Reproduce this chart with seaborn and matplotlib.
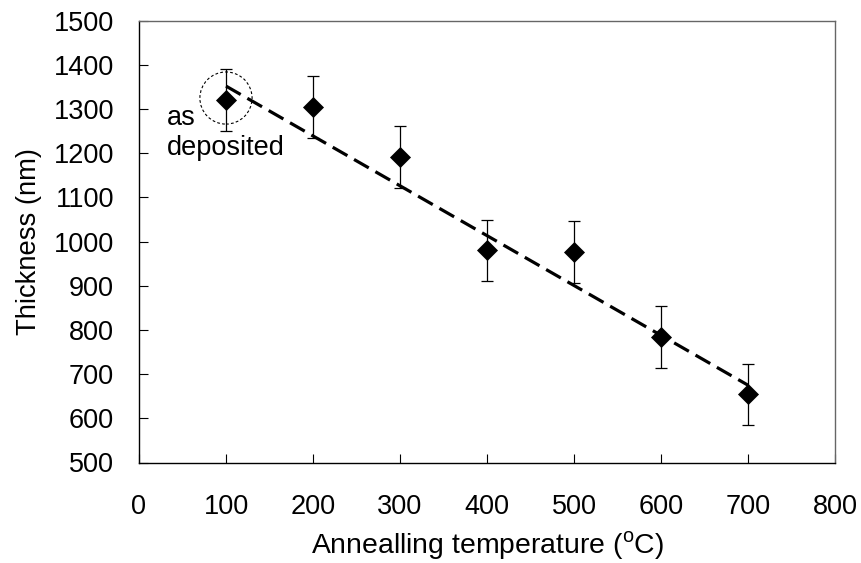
import matplotlib
matplotlib.use("Agg")
import matplotlib.pyplot as plt
from matplotlib.patches import Ellipse
import seaborn as sns
import pandas as pd

# Film thickness versus annealing temperature
temperature = [100, 200, 300, 400, 500, 600, 700]
thickness = [1320, 1305, 1192, 980, 976, 785, 654]
thickness_err = [70, 70, 70, 70, 70, 70, 70]

# Linear trend drawn through the series
trend_x = [100, 700]
trend_y = [1352, 675]

x_ticks = [0, 100, 200, 300, 400, 500, 600, 700, 800]
y_ticks = [500, 600, 700, 800, 900, 1000, 1100, 1200, 1300, 1400, 1500]

sns.set_theme(style="ticks")
plt.rcParams["font.family"] = ["Liberation Sans", "DejaVu Sans"]
plt.rcParams["mathtext.fontset"] = "custom"
plt.rcParams["mathtext.rm"] = "Liberation Sans"
plt.rcParams["text.color"] = "black"
plt.rcParams["axes.labelcolor"] = "black"
plt.rcParams["xtick.color"] = "black"
plt.rcParams["ytick.color"] = "black"

df = pd.DataFrame({"T": temperature, "d": thickness, "err": thickness_err})
trend = pd.DataFrame({"T": trend_x, "d": trend_y})

fig = plt.figure(figsize=(8.61, 5.63), dpi=100)
ax = fig.add_axes([139 / 861, 1 - 462.5 / 563, (835 - 139) / 861, (462.5 - 20.7) / 563])

sns.lineplot(data=trend, x="T", y="d", ax=ax, color="black", linewidth=2.3,
             dashes=False, zorder=2)
ax.lines[-1].set_dashes((5.3, 2.4))

ax.errorbar(df["T"], df["d"], yerr=df["err"], fmt="none", ecolor="black",
            elinewidth=0.9, capsize=4, capthick=0.9, zorder=3)
sns.scatterplot(data=df, x="T", y="d", ax=ax, marker="D", s=115,
                color="black", edgecolor="black", linewidth=0, zorder=4)

# dashed ring marking the as-deposited sample
ring = Ellipse((temperature[0], thickness[0] + 5), width=60, height=118,
               fill=False, edgecolor="black", linewidth=0.8,
               linestyle=(0, (2.5, 2)), zorder=5)
ax.add_patch(ring)
ax.text(32, 1264, "as", fontsize=19.5, ha="left", va="baseline", color="black")
ax.text(32, 1196, "deposited", fontsize=19.5, ha="left", va="baseline", color="black")

ax.set_xlim(0, 800)
ax.set_ylim(500, 1500)
ax.set_xticks(x_ticks)
ax.set_yticks(y_ticks)
ax.tick_params(axis="both", direction="in", length=6.5, width=0.8,
               labelsize=19.5, colors="black")
ax.tick_params(axis="x", pad=22.5)
ax.tick_params(axis="y", pad=18)
for side in ["top", "right", "left", "bottom"]:
    ax.spines[side].set_visible(True)
    ax.spines[side].set_color("black")
    ax.spines[side].set_linewidth(1.0)
for side in ["top", "right"]:
    ax.spines[side].set_color("#666666")

ax.set_xlabel("Annealling temperature ($^{\\mathrm{o}}$C)", fontsize=20.4, labelpad=7)
ax.set_ylabel("Thickness (nm)", fontsize=19.7, labelpad=8)

fig.savefig("out.png", dpi=100, facecolor="white")
